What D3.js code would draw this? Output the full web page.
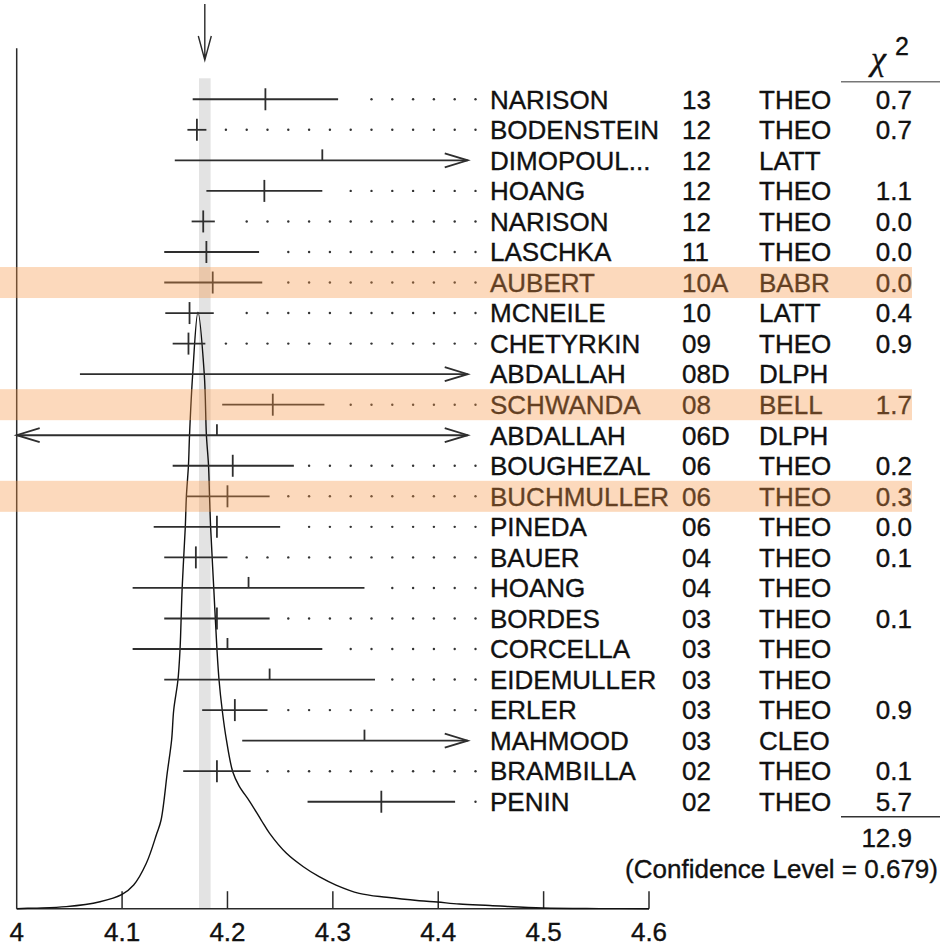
<!DOCTYPE html>
<html>
<head>
<meta charset="utf-8">
<style>
  body { margin: 0; background: #fff; }
  text { font-family: "Liberation Sans", Arial, Helvetica, sans-serif; fill: #111; stroke: #111; stroke-width: 0.35px; }
</style>
</head>
<body>
<svg width="940" height="947"></svg>
<script src="https://d3js.org/d3.v7.min.js"></script>
<script>
    // measurements, one entry per row (top to bottom)
    var names = ["NARISON", "BODENSTEIN", "DIMOPOUL...", "HOANG", "NARISON", "LASCHKA", "AUBERT", "MCNEILE",
        "CHETYRKIN", "ABDALLAH", "SCHWANDA", "ABDALLAH", "BOUGHEZAL", "BUCHMULLER", "PINEDA", "BAUER",
        "HOANG", "BORDES", "CORCELLA", "EIDEMULLER", "ERLER", "MAHMOOD", "BRAMBILLA", "PENIN"];
    var years = ["13", "12", "12", "12", "12", "11", "10A", "10", "09", "08D", "08", "06D", "06", "06", "06", "04",
        "04", "03", "03", "03", "03", "03", "02", "02"];
    var techs = ["THEO", "THEO", "LATT", "THEO", "THEO", "THEO", "BABR", "LATT", "THEO", "DLPH", "BELL", "DLPH",
        "THEO", "THEO", "THEO", "THEO", "THEO", "THEO", "THEO", "THEO", "THEO", "CLEO", "THEO", "THEO"];
    var centers = [4.236, 4.171, 4.290, 4.235, 4.177, 4.180, 4.186, 4.164, 4.163, null, 4.243, 4.190,
        4.205, 4.200, 4.190, 4.170, 4.220, 4.190, 4.200, 4.240, 4.207, 4.330, 4.190, 4.346];
    var lows = [4.167, 4.162, 4.150, 4.180, 4.166, 4.140, 4.140, 4.141, 4.148, 4.060, 4.195, 3.790,
        4.148, 4.161, 4.130, 4.140, 4.110, 4.140, 4.110, 4.140, 4.176, 4.214, 4.158, 4.276];
    var highs = [4.305, 4.180, 4.430, 4.290, 4.188, 4.230, 4.233, 4.187, 4.179, 4.500, 4.292, 4.590,
        4.263, 4.240, 4.250, 4.200, 4.330, 4.240, 4.290, 4.340, 4.238, 4.450, 4.222, 4.416];
    var chi2 = [0.7, 0.7, null, 1.1, 0.0, 0.0, 0.0, 0.4, 0.9, null, 1.7, null,
        0.2, 0.3, 0.0, 0.1, null, 0.1, null, null, 0.9, null, 0.1, 5.7];
    var highlighted = [6, 10, 13];

    var average = 4.1785, averageErr = 0.0055;
    var chi2Total = "12.9", confText = "(Confidence Level = 0.679)";

    // ideogram curve (arbitrary units, peak = 100)
    var curveMass = [4.000, 4.016, 4.047, 4.079, 4.100, 4.111, 4.123, 4.133, 4.137, 4.143, 4.147, 4.149, 4.153,
        4.155, 4.157, 4.160, 4.161, 4.163, 4.164, 4.167, 4.172, 4.178, 4.180, 4.182, 4.183, 4.184, 4.187,
        4.190, 4.192, 4.195, 4.199, 4.205, 4.211, 4.221, 4.232, 4.240, 4.256, 4.272, 4.287, 4.303, 4.325,
        4.351, 4.382, 4.399, 4.420, 4.449, 4.499, 4.553, 4.600];
    var curveDensity = [0, 0.1, 0.34, 1.17, 2.41, 3.97, 7.61, 12.64, 14.87, 22.97, 28.29, 33.32, 38.35,
        43.54, 53.72, 64.05, 69.08, 74.40, 79.43, 89.61, 100, 89.61, 79.43, 74.40, 69.08, 64.05, 53.72,
        43.54, 38.35, 33.32, 28.29, 22.97, 20.6, 18.0, 14.87, 12.64, 9.29, 7.04, 5.37, 3.97, 2.58,
        1.91, 1.34, 1.12, 0.79, 0.54, 0.12, 0.02, 0];

    var xTicks = [4, 4.1, 4.2, 4.3, 4.4, 4.5, 4.6];

    var svg = d3.select("svg"),
        font = 26,
        barLimit = [4.0, 4.428];

    var x = d3.scaleLinear().domain([4, 4.6]).range([16.7, 649]);
    var yDens = d3.scaleLinear().domain([0, 100]).range([908.7, 312.3]);
    var row = d3.scaleBand().domain(d3.range(names.length)).range([84.0, 817.0]);
    function yc(i) { return row(i) + row.bandwidth() / 2; }

    var ink = "#2a2a2a";

    // average band
    svg.append("rect")
        .attr("x", x(average - averageErr))
        .attr("y", 78.3)
        .attr("width", x(average + averageErr) - x(average - averageErr))
        .attr("height", yDens(0) - 78.3)
        .attr("fill", "#e3e3e3");

    // arrow pointing at the average
    var ax = x(average);
    svg.append("path")
        .attr("d", "M" + ax + ",4V60M" + (ax - 6.5) + ",36L" + ax + ",60L" + (ax + 6.5) + ",36")
        .attr("fill", "none").attr("stroke", ink).attr("stroke-width", 1.4);

    // axes
    svg.append("line").attr("x1", x(4)).attr("x2", x(4)).attr("y1", 48.3).attr("y2", yDens(0))
        .attr("stroke", ink).attr("stroke-width", 1.5);
    svg.append("line").attr("x1", x(4)).attr("x2", x(4.6)).attr("y1", yDens(0)).attr("y2", yDens(0))
        .attr("stroke", ink).attr("stroke-width", 1.5);

    svg.selectAll(".xtick")
        .data(xTicks.slice(1))
        .enter().append("line")
        .attr("x1", function (d) { return x(d); })
        .attr("x2", function (d) { return x(d); })
        .attr("y1", yDens(0))
        .attr("y2", yDens(0) - 17.5)
        .attr("stroke", ink).attr("stroke-width", 1.5);

    svg.selectAll(".xlabel")
        .data(xTicks)
        .enter().append("text")
        .attr("x", function (d) { return x(d); })
        .attr("y", 941)
        .attr("text-anchor", "middle")
        .style("font-size", font + "px")
        .text(function (d) { return d3.format("")(d); });

    // ideogram
    var pts = curveMass.map(function (m, i) { return [m, curveDensity[i]]; });
    svg.append("path")
        .datum(pts)
        .attr("fill", "none")
        .attr("stroke", "#111")
        .attr("stroke-width", 1.4)
        .attr("d", d3.line()
            .curve(d3.curveCatmullRom.alpha(0.5))
            .x(function (d) { return x(d[0]); })
            .y(function (d) { return yDens(d[1]); }));

    // error bars
    var dotStep = 20.8, dotEnd = 475.5;
    names.forEach(function (n, i) {
        var y = yc(i);
        var lo = Math.max(lows[i], barLimit[0]), hi = Math.min(highs[i], barLimit[1]);
        var arrowL = lows[i] < barLimit[0], arrowR = highs[i] > barLimit[1];
        var g = svg.append("g").attr("stroke", "#2e2e2e").attr("stroke-width", 1.8).attr("fill", "none");
        g.append("line").attr("x1", x(lo)).attr("x2", x(hi)).attr("y1", y).attr("y2", y);
        if (arrowR) {
            g.append("path").attr("d", "M" + (x(hi) - 23) + "," + (y - 7) + "L" + x(hi) + "," + y + "L" + (x(hi) - 23) + "," + (y + 7));
        }
        if (arrowL) {
            g.append("path").attr("d", "M" + (x(lo) + 23) + "," + (y - 7) + "L" + x(lo) + "," + y + "L" + (x(lo) + 23) + "," + (y + 7));
        }
        if (centers[i] !== null) {
            var half = chi2[i] === null;
            g.append("line").attr("x1", x(centers[i])).attr("x2", x(centers[i]))
                .attr("y1", y - 11).attr("y2", half ? y : y + 11);
        }
        // dotted leader to the label
        if (!arrowR && !arrowL) {
            var dots = [];
            for (var k = 0; dotEnd - k * dotStep > x(hi) + 13; k++) dots.push(dotEnd - k * dotStep);
            svg.selectAll(null).data(dots).enter().append("circle")
                .attr("cx", function (d) { return d; }).attr("cy", y).attr("r", 1.2)
                .attr("fill", "#333");
        }
    });

    // text columns
    var cols = svg.append("g").style("font-size", font + "px");
    names.forEach(function (n, i) {
        var ty = yc(i) + 9.3;
        cols.append("text").attr("x", 490).attr("y", ty).text(n);
        cols.append("text").attr("x", 682).attr("y", ty).text(years[i]);
        cols.append("text").attr("x", 759).attr("y", ty).text(techs[i]);
        if (chi2[i] !== null) {
            cols.append("text").attr("x", 912).attr("y", ty).attr("text-anchor", "end").text(chi2[i].toFixed(1));
        }
    });

    // chi2 header and total
    svg.append("text").attr("x", 871).attr("y", 70).style("font-size", "34px")
        .style("font-family", "'Liberation Serif', serif").style("font-style", "italic").text("χ");
    svg.append("text").attr("x", 895).attr("y", 55).style("font-size", "25px").text("2");
    svg.append("line").attr("x1", 841).attr("x2", 940).attr("y1", 81.7).attr("y2", 81.7)
        .attr("stroke", "#777").attr("stroke-width", 1.5);
    svg.append("line").attr("x1", 841).attr("x2", 940).attr("y1", 816.7).attr("y2", 816.7)
        .attr("stroke", "#333").attr("stroke-width", 1.5);
    svg.append("text").attr("x", 912).attr("y", 847).attr("text-anchor", "end").style("font-size", font + "px")
        .text(chi2Total);
    svg.append("text").attr("x", 938).attr("y", 878).attr("text-anchor", "end").style("font-size", font + "px")
        .text(confText);

    // highlighted rows, drawn on top
    svg.selectAll(".hl")
        .data(highlighted)
        .enter().append("rect")
        .attr("x", 0)
        .attr("y", function (d) { return yc(d) - 15.5; })
        .attr("width", 912)
        .attr("height", 31)
        .attr("fill", "rgb(247,150,70)")
        .attr("fill-opacity", 0.36);
</script>
</body>
</html>
